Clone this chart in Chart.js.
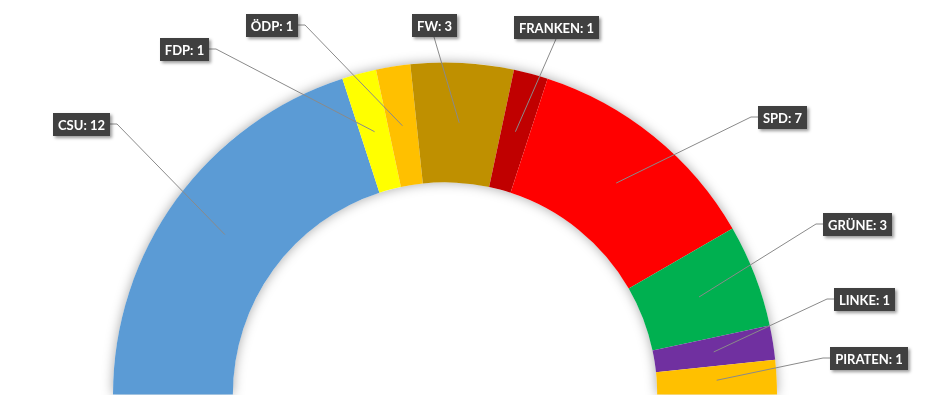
<!DOCTYPE html>
<html>
<head>
<meta charset="utf-8">
<script src="https://cdn.jsdelivr.net/npm/chart.js@4.4.1/dist/chart.umd.min.js"></script>
<style>
  html, body { margin: 0; padding: 0; background: #fff; }
  #wrap { width: 945px; height: 395px; }
</style>
</head>
<body>
<div id="wrap"><canvas id="seatChart" width="945" height="395"></canvas></div>
<script>
const parties = ['CSU', 'FDP', 'ÖDP', 'FW', 'FRANKEN', 'SPD', 'GRÜNE', 'LINKE', 'PIRATEN'];
const seats = [12, 1, 1, 3, 1, 7, 3, 1, 1];
const partyColors = ['#5B9BD5', '#FFFF00', '#FFC000', '#BF9000', '#C00000', '#FF0000', '#00B050', '#7030A0', '#FFC000'];

// where each label box sits (centre), dragged-label style
const labelBoxes = [
  [81, 124], [184, 49], [272, 25], [434, 25], [556, 27],
  [782, 117], [857, 224], [864, 299], [869, 358]
];

// soft shadow round the whole ring, drawn before the slices
const ringShadow = {
  id: 'ringShadow',
  beforeDatasetsDraw(chart) {
    const arc = chart.getDatasetMeta(0).data[0];
    const {x, y, innerRadius, outerRadius} = arc.getProps(['x', 'y', 'innerRadius', 'outerRadius'], true);
    const ctx = chart.ctx;
    ctx.save();
    ctx.shadowColor = 'rgba(0,0,0,0.35)';
    ctx.shadowBlur = 12;
    ctx.fillStyle = '#fff';
    ctx.beginPath();
    ctx.arc(x, y, outerRadius, Math.PI, 2 * Math.PI);
    ctx.arc(x, y, innerRadius, 2 * Math.PI, Math.PI, true);
    ctx.closePath();
    ctx.fill();
    ctx.restore();
  }
};

// label boxes with leader lines to the slice centre
const leaderLabels = {
  id: 'leaderLabels',
  afterDraw(chart) {
    const ctx = chart.ctx;
    const arcs = chart.getDatasetMeta(0).data;
    ctx.save();
    ctx.font = 'bold 13px Lato';
    arcs.forEach((arc, i) => {
      const p = arc.getCenterPoint();
      const [cx, cy] = labelBoxes[i];
      const text = parties[i] + ': ' + seats[i];
      const w = Math.round(ctx.measureText(text).width + 10), h = 23;
      const left = Math.round(cx - w / 2), top = Math.round(cy - h / 2);

      ctx.strokeStyle = '#8a8a8a';
      ctx.lineWidth = 1;
      ctx.beginPath();
      if (Math.abs(p.x - cx) < w) {
        ctx.moveTo(cx, top + h);
      } else {
        const dir = p.x > cx ? 1 : -1;
        const side = dir > 0 ? left + w : left;
        ctx.moveTo(side, cy);
        ctx.lineTo(side + dir * 7, cy);
      }
      ctx.lineTo(p.x, p.y);
      ctx.stroke();

      ctx.save();
      ctx.shadowColor = 'rgba(0,0,0,0.4)';
      ctx.shadowBlur = 3;
      ctx.shadowOffsetX = 2;
      ctx.shadowOffsetY = 2;
      ctx.fillStyle = '#404040';
      ctx.fillRect(left, top, w, h);
      ctx.restore();

      ctx.fillStyle = '#fff';
      ctx.textAlign = 'center';
      ctx.textBaseline = 'middle';
      ctx.fillText(text, left + w / 2, top + h / 2 + 1);
    });
    ctx.restore();
  }
};

new Chart(document.getElementById('seatChart'), {
  type: 'doughnut',
  data: {
    labels: parties,
    datasets: [{
      data: seats,
      backgroundColor: partyColors,
      borderWidth: 0
    }]
  },
  options: {
    responsive: false,
    animation: false,
    rotation: -90,
    circumference: 180,
    cutout: '63.9%',
    layout: { padding: { left: 113, right: 168, top: 62, bottom: 0 } },
    plugins: { legend: { display: false }, tooltip: { enabled: false } }
  },
  plugins: [ringShadow, leaderLabels]
});
</script>
</body>
</html>
